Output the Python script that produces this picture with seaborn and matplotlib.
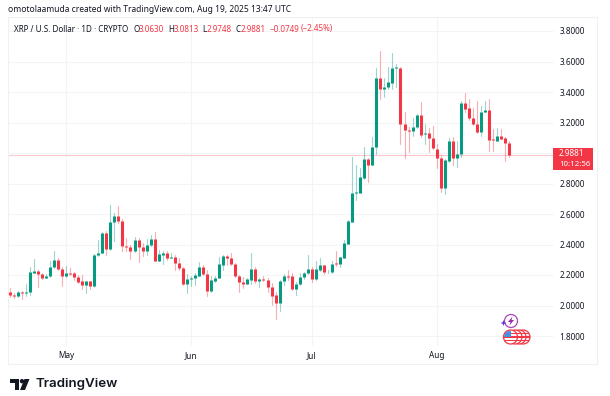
import numpy as np
import pandas as pd
import matplotlib
matplotlib.use('Agg')
import matplotlib.pyplot as plt
import matplotlib.dates as mdates
from matplotlib.patches import Circle, Polygon, Rectangle
import seaborn as sns

# XRP daily candles, Apr 17 to Aug 19 2025
start_date = '2025-04-17'
opens = [2.086, 2.068, 2.062, 2.090, 2.082, 2.088, 2.215, 2.224, 2.206, 2.182,
         2.193, 2.250, 2.298, 2.239, 2.191, 2.213, 2.210, 2.189, 2.158, 2.132,
         2.158, 2.125, 2.331, 2.346, 2.475, 2.368, 2.547, 2.586, 2.556, 2.390,
         2.385, 2.355, 2.431, 2.385, 2.359, 2.396, 2.433, 2.294, 2.333, 2.346,
         2.313, 2.320, 2.278, 2.248, 2.138, 2.173, 2.180, 2.195, 2.250, 2.204,
         2.092, 2.160, 2.180, 2.267, 2.326, 2.311, 2.272, 2.193, 2.151, 2.141,
         2.169, 2.239, 2.160, 2.173, 2.167, 2.123, 2.066, 2.018, 2.160, 2.193,
         2.191, 2.106, 2.141, 2.184, 2.210, 2.241, 2.171, 2.232, 2.263, 2.217,
         2.217, 2.278, 2.272, 2.313, 2.405, 2.549, 2.735, 2.740, 2.836, 2.963,
         2.923, 3.041, 3.490, 3.420, 3.431, 3.461, 3.555, 3.560, 3.188, 3.151,
         3.146, 3.168, 3.247, 3.127, 3.133, 3.100, 3.028, 2.965, 2.773, 2.950,
         3.079, 2.965, 2.991, 3.326, 3.293, 3.229, 3.192, 3.135, 3.271, 3.282,
         3.092, 3.081, 3.114, 3.096, 3.063]
highs = [2.116, 2.079, 2.095, 2.095, 2.141, 2.250, 2.302, 2.232, 2.215, 2.204,
         2.294, 2.357, 2.309, 2.254, 2.259, 2.243, 2.221, 2.200, 2.200, 2.162,
         2.162, 2.335, 2.429, 2.479, 2.486, 2.659, 2.608, 2.652, 2.565, 2.440,
         2.396, 2.451, 2.444, 2.407, 2.433, 2.462, 2.484, 2.364, 2.357, 2.357,
         2.346, 2.329, 2.313, 2.250, 2.206, 2.193, 2.210, 2.285, 2.265, 2.232,
         2.193, 2.193, 2.320, 2.331, 2.331, 2.342, 2.276, 2.200, 2.184, 2.178,
         2.342, 2.254, 2.178, 2.193, 2.178, 2.149, 2.090, 2.165, 2.206, 2.232,
         2.215, 2.156, 2.210, 2.221, 2.331, 2.250, 2.291, 2.313, 2.267, 2.232,
         2.294, 2.357, 2.320, 2.429, 2.560, 2.976, 2.921, 2.899, 3.037, 2.965,
         3.103, 3.560, 3.669, 3.494, 3.566, 3.654, 3.584, 3.566, 3.271, 3.168,
         3.227, 3.256, 3.337, 3.190, 3.162, 3.179, 3.059, 2.987, 2.958, 3.096,
         3.103, 3.079, 3.341, 3.391, 3.354, 3.293, 3.341, 3.310, 3.341, 3.356,
         3.155, 3.162, 3.155, 3.103, 3.0813]
lows = [2.053, 2.047, 2.057, 2.042, 2.062, 2.068, 2.210, 2.123, 2.171, 2.178,
        2.189, 2.243, 2.232, 2.127, 2.189, 2.200, 2.167, 2.145, 2.106, 2.084,
        2.106, 2.123, 2.326, 2.342, 2.331, 2.364, 2.425, 2.538, 2.359, 2.357,
        2.302, 2.353, 2.287, 2.324, 2.331, 2.392, 2.289, 2.291, 2.272, 2.298,
        2.309, 2.232, 2.232, 2.132, 2.084, 2.127, 2.134, 2.193, 2.197, 2.064,
        2.088, 2.156, 2.178, 2.232, 2.265, 2.263, 2.184, 2.090, 2.112, 2.138,
        2.141, 2.149, 2.123, 2.160, 2.090, 2.003, 1.913, 1.966, 2.136, 2.167,
        2.101, 2.071, 2.136, 2.171, 2.206, 2.156, 2.167, 2.228, 2.204, 2.210,
        2.215, 2.259, 2.254, 2.309, 2.401, 2.545, 2.692, 2.735, 2.832, 2.812,
        2.919, 2.993, 3.354, 3.365, 3.420, 3.417, 3.435, 3.057, 2.965, 3.009,
        3.111, 3.162, 3.107, 3.059, 3.009, 3.024, 2.899, 2.746, 2.731, 2.943,
        2.921, 2.910, 2.976, 3.271, 3.216, 3.184, 3.129, 3.111, 3.267, 3.015,
        3.015, 3.076, 3.090, 2.947, 2.9748]
closes = [2.066, 2.064, 2.090, 2.079, 2.088, 2.217, 2.224, 2.206, 2.182, 2.195,
          2.254, 2.298, 2.237, 2.191, 2.213, 2.208, 2.186, 2.156, 2.132, 2.158,
          2.127, 2.331, 2.346, 2.477, 2.368, 2.547, 2.586, 2.552, 2.390, 2.381,
          2.355, 2.431, 2.383, 2.357, 2.398, 2.433, 2.294, 2.335, 2.346, 2.311,
          2.320, 2.276, 2.243, 2.138, 2.176, 2.182, 2.200, 2.250, 2.204, 2.095,
          2.165, 2.182, 2.270, 2.326, 2.311, 2.270, 2.191, 2.151, 2.143, 2.171,
          2.239, 2.160, 2.173, 2.167, 2.121, 2.064, 2.018, 2.160, 2.193, 2.186,
          2.106, 2.143, 2.186, 2.213, 2.241, 2.171, 2.237, 2.263, 2.221, 2.221,
          2.274, 2.272, 2.315, 2.407, 2.552, 2.735, 2.744, 2.840, 2.963, 2.921,
          3.041, 3.490, 3.420, 3.433, 3.463, 3.557, 3.562, 3.188, 3.151, 3.146,
          3.173, 3.247, 3.118, 3.133, 3.100, 3.030, 2.965, 2.773, 2.952, 3.079,
          2.965, 2.996, 3.326, 3.291, 3.227, 3.192, 3.135, 3.271, 3.282, 3.085,
          3.085, 3.114, 3.094, 3.068, 2.9881]
price_ticks = [1.8, 2.0, 2.2, 2.4, 2.6, 2.8, 3.0, 3.2, 3.4, 3.6, 3.8]
price_tick_labels = ['1.8000', '2.0000', '2.2000', '2.4000', '2.6000', '2.8000',
                     '', '3.2000', '3.4000', '3.6000', '3.8000']
month_ticks = ['2025-05-01', '2025-06-01', '2025-07-01', '2025-08-01']
month_labels = ['May', 'Jun', 'Jul', 'Aug']
last_price = 2.9881

GREEN = '#089981'
RED = '#f23645'
TEXT = '#131722'
GRID = '#f3f4f6'

days = pd.date_range(start_date, periods=len(opens), freq='D')
direction = ['up' if c >= o else 'down' for o, c in zip(opens, closes)]
palette = {'up': GREEN, 'down': RED}

candles = pd.DataFrame({'day': days, 'direction': direction, 'candle': range(len(days)),
                        'open': opens, 'high': highs, 'low': lows, 'close': closes})
wicks = candles.melt(id_vars=['day', 'direction', 'candle'], value_vars=['low', 'high'], value_name='price')
bodies = candles.melt(id_vars=['day', 'direction', 'candle'], value_vars=['open', 'close'], value_name='price')

sns.set_theme(style='white')
plt.rcParams['font.family'] = ['Noto Sans', 'DejaVu Sans']

fig = plt.figure(figsize=(6.1, 3.96), dpi=100, facecolor='white')
# chart frame runs from x=8 to x=597, y=17 to y=364 in pixels
ax = fig.add_axes([8 / 610, 1 - 364 / 396, 589 / 610, 347 / 396])

may_first = mdates.date2num(pd.Timestamp('2025-05-01'))
px_per_day = 4.03
ax.set_xlim(may_first - 58 / px_per_day, may_first + 531 / px_per_day)
ax.set_ylim(1.8 - 28 / 152.5, 1.8 + 319 / 152.5)

# grid stops at the price scale and above the time scale
pane_right = may_first + (553 - 66) / px_per_day
pane_bottom = 1.8 - 9 / 152.5
ax.hlines(price_ticks, ax.get_xlim()[0], pane_right, color=GRID, lw=0.8, zorder=0)
ax.vlines(mdates.date2num(pd.to_datetime(month_ticks)), pane_bottom, ax.get_ylim()[1], color=GRID, lw=0.8, zorder=0)

sns.lineplot(data=wicks, x='day', y='price', hue='direction', palette=palette, units='candle',
             estimator=None, sort=False, legend=False, lw=0.8, alpha=0.4, ax=ax, zorder=2)
sns.lineplot(data=bodies, x='day', y='price', hue='direction', palette=palette, units='candle',
             estimator=None, sort=False, legend=False, lw=2.2, solid_capstyle='butt', ax=ax, zorder=3)

ax.hlines(last_price, ax.get_xlim()[0], pane_right, color='#fbc8cd', lw=0.8, zorder=1)

ax.set_xlabel('')
ax.set_ylabel('')
ax.set_xticks(mdates.date2num(pd.to_datetime(month_ticks)))
ax.set_xticklabels(month_labels)
ax.set_yticks(price_ticks)
ax.set_yticklabels(price_tick_labels)
ax.yaxis.tick_right()
ax.tick_params(axis='y', length=0, pad=-27, labelsize=5.9, labelcolor=TEXT)
ax.tick_params(axis='x', length=0, pad=-9.5, labelsize=5.9, labelcolor=TEXT)
for label in ax.get_yticklabels():
    label.set_ha('left')
for spine in ax.spines.values():
    spine.set_color('#eef0f3')
    spine.set_linewidth(0.8)

# overlay in pixel coordinates for header, price tag, icons and logo
over = fig.add_axes([0, 0, 1, 1], zorder=5)
over.set_xlim(0, 610)
over.set_ylim(396, 0)
over.axis('off')

over.text(8, 10, 'omotolaamuda created with TradingView.com, Aug 19, 2025 13:47 UTC',
          fontsize=6.1, color=TEXT, va='center')

header = [(14, 'XRP / U.S. Dollar · 1D · CRYPTO', TEXT), (133, 'O', TEXT), (139, '3.0630', RED),
          (168, 'H', TEXT), (174, '3.0813', RED), (202, 'L', TEXT), (207, '2.9748', RED),
          (236, 'C', TEXT), (241, '2.9881', RED), (270, '−0.0749', RED), (301, '(−2.45%)', RED)]
for x, s, c in header:
    over.text(x, 29, s, fontsize=5.8, color=c, va='center')

over.add_patch(Rectangle((553, 148), 40, 21.5, color=RED, lw=0))
over.text(559, 154, '2.9881', fontsize=5.9, color='white', va='center', fontweight='medium')
over.text(559, 164, '10:12:56', fontsize=5.7, color='white', va='center')

# purple lightning badge
over.add_patch(Circle((511, 321), 6.5, fill=False, ec='#ab47bc', lw=0.9))
over.add_patch(Polygon([(512.5, 316.5), (508, 322), (510.5, 322), (509.5, 325.5), (514, 320), (511.5, 320)],
                       color='#9c27b0', lw=0))
over.add_patch(Polygon([(503.5, 320), (504.3, 322.2), (506.5, 323), (504.3, 323.8), (503.5, 326),
                        (502.7, 323.8), (500.5, 323), (502.7, 322.2)], color='#5e35d6', lw=0))

# stacked US flag badges, back to front
for cx in [523, 519, 515, 510.5]:
    disc = Circle((cx, 337), 7, fc='white', ec=RED, lw=0.9, zorder=6)
    over.add_patch(disc)
    for sy in [333.5, 337, 340.5]:
        stripe = Rectangle((cx - 7, sy - 0.7), 14, 1.4, color=RED, lw=0, zorder=6)
        over.add_patch(stripe)
        stripe.set_clip_path(disc)
canton = Rectangle((504, 330.6), 6.5, 6.4, color='#4a90e2', lw=0, zorder=7)
over.add_patch(canton)
canton.set_clip_path(Circle((510.5, 337), 6.4, transform=over.transData))

# TradingView logo
LOGO = '#131722'
over.add_patch(Polygon([(10, 379), (19, 379), (19, 390), (14.5, 390), (14.5, 383.3), (10, 383.3)], color=LOGO, lw=0))
over.add_patch(Circle((22, 381.2), 2.2, color=LOGO, lw=0))
over.add_patch(Polygon([(24.5, 379), (29.5, 379), (25, 390), (20, 390)], color=LOGO, lw=0))
over.text(35, 384.5, 'TradingView', fontsize=9.6, color=LOGO, va='center', family='Inter', fontweight='semibold')

fig.savefig('out.png', dpi=100)
